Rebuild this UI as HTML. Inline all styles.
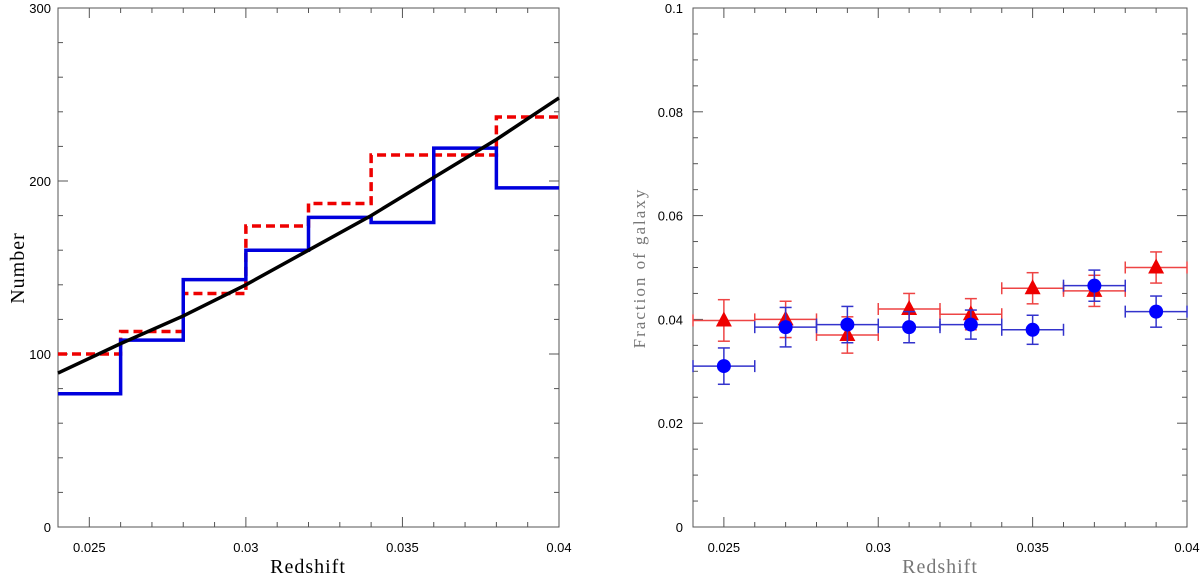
<!DOCTYPE html>
<html><head><meta charset="utf-8"><style>body{margin:0;background:#fff}svg{display:block}</style></head>
<body>
<svg id="c" width="1200" height="576" font-family="Liberation Sans, sans-serif"></svg>
<script>
const binEdges=[0.024,0.026,0.028,0.030,0.032,0.034,0.036,0.038,0.040];
const blueHist=[77,108,143,160,179,176,219,196];
const redHist=[100,113,135,174,187,215,215,237];
const fitX=[0.024,0.026,0.028,0.030,0.032,0.034,0.036,0.038,0.040];
const fitY=[89,106,122,140,160,180,202,224,248];
const ptX=[0.025,0.027,0.029,0.031,0.033,0.035,0.037,0.039];
const blueFrac=[0.031,0.0385,0.039,0.0385,0.039,0.038,0.0465,0.0415];
const blueErr=[0.0035,0.0038,0.0035,0.003,0.0028,0.0028,0.003,0.003];
const redFrac=[0.0398,0.040,0.037,0.042,0.041,0.046,0.0455,0.050];
const redErr=[0.004,0.0035,0.0035,0.003,0.003,0.003,0.003,0.003];
const xTicks=[0.025,0.03,0.035,0.04],xTickLabels=['0.025','0.03','0.035','0.04'];
const lyTicks=[0,100,200,300],ryTicks=[0,0.02,0.04,0.06,0.08,0.1],ryTickLabels=['0','0.02','0.04','0.06','0.08','0.1'];
const svg=document.getElementById('c'),NS='http://www.w3.org/2000/svg';
function el(t,a,p){const e=document.createElementNS(NS,t);for(const k in a)e.setAttribute(k,a[k]);(p||svg).appendChild(e);return e;}
function panel(L,R,T,B,ymax,name){
 const sx=v=>L+(v-0.024)/0.016*(R-L), sy=v=>B-v/ymax*(B-T);
 const g=el('g',{});
 el('rect',{x:L,y:T,width:R-L,height:B-T,fill:'none',stroke:'#555','stroke-width':1},g);
 for(let i=0;i<=16;i++){const x=sx(0.024+i*0.001),len=(i%5==1)?10:5;
  el('line',{x1:x,x2:x,y1:B,y2:B-len,stroke:'#555'},g);el('line',{x1:x,x2:x,y1:T,y2:T+len,stroke:'#555'},g);}
 return {sx,sy,g};
}
const A=panel(58,559,8,527,300,'left-panel');
for(let i=0;i<=15;i++){const y=A.sy(i*20),len=(i%5==0)?10:5;
 el('line',{x1:58,x2:58+len,y1:y,y2:y,stroke:'#555'},A.g);el('line',{x1:559,x2:559-len,y1:y,y2:y,stroke:'#555'},A.g);}
xTicks.forEach((v,i)=>{const t=el('text',{x:A.sx(v),y:552,'font-size':13,'text-anchor':'middle'},A.g);t.textContent=xTickLabels[i];});
lyTicks.forEach(v=>{const t=el('text',{x:51,y:A.sy(v)+5,'font-size':13,'text-anchor':'end'},A.g);t.textContent=v;});
function hist(vals,attrs,n){let d='';vals.forEach((v,i)=>{d+=(i?'L':'M')+A.sx(binEdges[i])+','+A.sy(v)+'L'+A.sx(binEdges[i+1])+','+A.sy(v);});
 const p=el('path',Object.assign({d,fill:'none'},attrs),A.g);}
hist(redHist,{stroke:'#e00','stroke-width':3.5,'stroke-dasharray':'9,5'},'red-histogram');
hist(blueHist,{stroke:'#00d','stroke-width':3.5},'blue-histogram');
const fp=el('path',{d:fitX.map((x,i)=>(i?'L':'M')+A.sx(x)+','+A.sy(fitY[i])).join(''),fill:'none',stroke:'#000','stroke-width':3.5},A.g);

let t=el('text',{x:308,y:573,'font-size':20,'letter-spacing':'1','text-anchor':'middle','font-family':'Liberation Serif, serif'});t.textContent='Redshift';

t=el('text',{x:0,y:0,'font-size':20,'letter-spacing':'1','text-anchor':'middle','font-family':'Liberation Serif, serif',transform:'translate(24,268) rotate(-90)'});t.textContent='Number';

const B=panel(693,1187,8,527,0.1,'right-panel');
for(let i=0;i<=20;i++){const y=B.sy(i*0.005),len=(i%4==0)?10:5;
 el('line',{x1:693,x2:693+len,y1:y,y2:y,stroke:'#555'},B.g);el('line',{x1:1187,x2:1187-len,y1:y,y2:y,stroke:'#555'},B.g);}
xTicks.forEach((v,i)=>{const t=el('text',{x:B.sx(v),y:552,'font-size':13,'text-anchor':'middle'},B.g);t.textContent=xTickLabels[i];});
ryTicks.forEach((v,i)=>{const t=el('text',{x:683,y:B.sy(v)+5,'font-size':13,'text-anchor':'end'},B.g);t.textContent=ryTickLabels[i];});
function pts(vals,errs,col,shape,n){vals.forEach((v,i)=>{const g=el('g',{},B.g);
 const x=B.sx(ptX[i]),y=B.sy(v),x0=B.sx(ptX[i]-0.001),x1=B.sx(ptX[i]+0.001),y0=B.sy(v-errs[i]),y1=B.sy(v+errs[i]);
 el('line',{x1:x0,x2:x1,y1:y,y2:y,stroke:col,'stroke-width':1.5},g);
 el('line',{x1:x0,x2:x0,y1:y-6,y2:y+6,stroke:col,'stroke-width':1.5},g);el('line',{x1:x1,x2:x1,y1:y-6,y2:y+6,stroke:col,'stroke-width':1.5},g);
 el('line',{x1:x,x2:x,y1:y0,y2:y1,stroke:col,'stroke-width':1.5},g);
 el('line',{x1:x-6,x2:x+6,y1:y0,y2:y0,stroke:col,'stroke-width':1.5},g);el('line',{x1:x-6,x2:x+6,y1:y1,y2:y1,stroke:col,'stroke-width':1.5},g);
 if(shape=='c')el('circle',{cx:x,cy:y,r:7,fill:'#00f'},g);
 else el('polygon',{points:`${x},${y-9} ${x-8},${y+6} ${x+8},${y+6}`,fill:'#e00'},g);});}
pts(redFrac,redErr,'#e44','t','red-triangle');
pts(blueFrac,blueErr,'#33c','c','blue-circle');
t=el('text',{x:940,y:573,'font-size':20,'letter-spacing':'1','text-anchor':'middle','font-family':'Liberation Serif, serif',fill:'#777'});t.textContent='Redshift';

t=el('text',{x:0,y:0,'font-size':17,'text-anchor':'middle','letter-spacing':'2','font-family':'Liberation Serif, serif',fill:'#777',transform:'translate(645,268) rotate(-90)'});t.textContent='Fraction of galaxy';

</script>
</body></html>
